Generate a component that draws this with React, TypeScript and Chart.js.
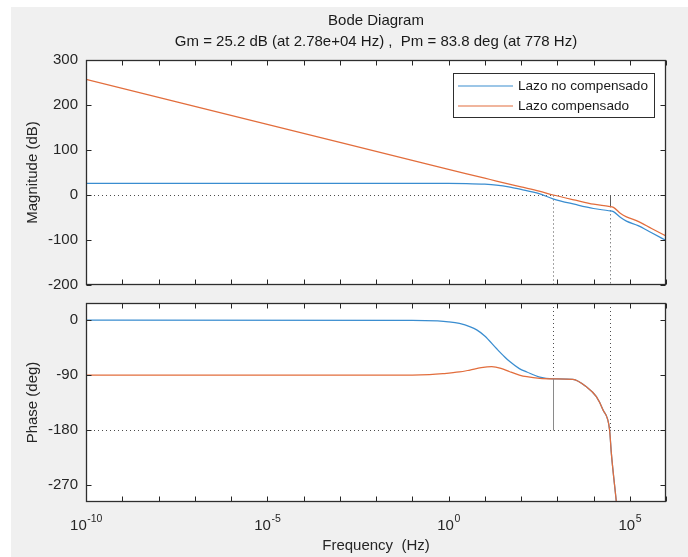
import React, { useEffect, useRef } from 'react';
import { Chart, registerables } from 'chart.js';

Chart.register(...registerables);

const FONT = "'Liberation Sans', Arial, Helvetica, sans-serif";
const TEXT = '#262626';
const BLUE = '#3a8dd0';
const ORANGE = '#e26d3c';

const TITLE = 'Bode Diagram';
const SUBTITLE = 'Gm = 25.2 dB (at 2.78e+04 Hz) ,  Pm = 83.8 deg (at 778 Hz)';
const SERIES_LABELS = ['Lazo no compensado', 'Lazo compensado'];
const MAG_LABEL = 'Magnitude (dB)';
const PHASE_LABEL = 'Phase (deg)';
const FREQ_LABEL = 'Frequency  (Hz)';

// Frequency axis
const X_MIN = 1e-10;
const X_MAX = 1e6;
const X_DECADES = [1e-10, 1e-9, 1e-8, 1e-7, 1e-6, 1e-5, 1e-4, 1e-3, 1e-2, 1e-1, 1, 1e1, 1e2, 1e3, 1e4, 1e5, 1e6];
const X_LABEL_VALUES = [1e-10, 1e-5, 1, 1e5];
const X_LABEL_EXPONENTS = ['-10', '-5', '0', '5'];

// Magnitude axis
const MAG_MIN = -200;
const MAG_MAX = 300;
const MAG_TICKS = [-200, -100, 0, 100, 200, 300];

// Phase axis
const PHASE_MIN = -298;
const PHASE_MAX = 28;
const PHASE_TICKS = [-270, -180, -90, 0];

// Uncompensated loop magnitude
const MAG_UNCOMP_FREQ = [1e-10, 0.1, 1, 3.16, 10, 21, 50, 100, 316, 760, 3160, 1e4, 2.63e4, 3.55e4, 5.6e4, 8.1e4, 1.7e5, 4e5, 1e6];
const MAG_UNCOMP_DB = [26, 26, 25.9, 25.4, 24, 22, 17.5, 12.5, 3, -8.5, -21, -30, -35, -37, -50, -58, -68, -84, -101];

// Compensated loop magnitude
const MAG_COMP_FREQ = [1e-10, 1e-5, 0.1, 1, 10, 21, 100, 316, 778, 3160, 1e4, 2.63e4, 3.55e4, 5.6e4, 8.1e4, 1.7e5, 4e5, 1e6];
const MAG_COMP_DB = [257, 157, 77, 57, 37.5, 31, 18, 8.5, 0, -11.5, -20.5, -25.5, -27.5, -41, -48.5, -58.5, -74.5, -91];

// Uncompensated loop phase
const PH_UNCOMP_FREQ = [1e-10, 0.1, 0.5, 1, 2, 4, 6, 10, 21.4, 35, 49, 90, 145, 330, 778, 2700, 6300, 1.2e4, 1.82e4, 2.78e4, 3.1e4, 4.27e4, 5e4];
const PH_UNCOMP_DEG = [0, -0.3, -1.4, -2.8, -5.5, -11, -16, -26, -47, -60, -68, -79.5, -85, -93.5, -96.2, -97, -109, -125.5, -147, -180, -217.6, -298, -340];

// Compensated loop phase
const PH_COMP_FREQ = [1e-10, 0.1, 0.3, 0.7, 2, 3.9, 8, 15.5, 28, 49, 90, 145, 330, 778, 2700, 6300, 1.2e4, 1.82e4, 2.78e4, 3.1e4, 4.27e4, 5e4];
const PH_COMP_DEG = [-90, -90, -89.3, -87.8, -85, -81.8, -78, -76.4, -79, -84.6, -90, -92.8, -95.5, -96.2, -97, -109, -125.5, -147, -180, -217.6, -298, -340];

// Margins
const GM_FREQ = 2.78e4;
const GM_DB = 25.2;
const PM_FREQ = 778;
const PM_DEG = 83.8;

const W = 688;
const H = 557;

const crisp = (v: number) => Math.round(v) + 0.5;

function font(size: number) {
  return `${size}px ${FONT}`;
}

function line(ctx: CanvasRenderingContext2D, x1: number, y1: number, x2: number, y2: number) {
  ctx.beginPath();
  ctx.moveTo(x1, y1);
  ctx.lineTo(x2, y2);
  ctx.stroke();
}

function makeOverlay(kind: 'mag' | 'phase') {
  return {
    id: 'overlay_' + kind,
    beforeDraw(chart: any) {
      const { ctx, chartArea: a } = chart;
      ctx.save();
      ctx.fillStyle = '#ffffff';
      ctx.fillRect(a.left, a.top, a.right - a.left, a.bottom - a.top);
      ctx.restore();
    },
    beforeDatasetsDraw(chart: any) {
      const { ctx, chartArea: a } = chart;
      const xs = chart.scales.x;
      const ys = chart.scales.y;
      const xPm = crisp(xs.getPixelForValue(PM_FREQ));
      const xGm = crisp(xs.getPixelForValue(GM_FREQ));
      ctx.save();
      ctx.lineWidth = 1;
      if (kind === 'mag') {
        const y0 = crisp(ys.getPixelForValue(0));
        const yG = ys.getPixelForValue(-GM_DB);
        ctx.strokeStyle = '#4d4d4d';
        ctx.setLineDash([1, 3]);
        line(ctx, a.left, y0, a.right, y0);
        line(ctx, xPm, y0, xPm, a.bottom);
        line(ctx, xGm, yG, xGm, a.bottom);
        ctx.setLineDash([]);
        ctx.strokeStyle = '#5e5e5e';
        line(ctx, xGm, y0, xGm, yG);
      } else {
        const y180 = crisp(ys.getPixelForValue(-180));
        const yP = ys.getPixelForValue(-180 + PM_DEG);
        ctx.strokeStyle = '#4d4d4d';
        ctx.setLineDash([1, 3]);
        line(ctx, a.left, y180, a.right, y180);
        line(ctx, xPm, a.top, xPm, yP);
        line(ctx, xGm, a.top, xGm, y180);
        ctx.setLineDash([]);
        ctx.strokeStyle = '#8a8a8a';
        line(ctx, xPm, yP, xPm, y180);
      }
      ctx.restore();
    },
    afterDatasetsDraw(chart: any) {
      const { ctx, chartArea: a } = chart;
      const xs = chart.scales.x;
      const ys = chart.scales.y;
      const ticks = kind === 'mag' ? MAG_TICKS : PHASE_TICKS;
      const L = crisp(a.left);
      const R = crisp(a.right) - 1;
      const T = crisp(a.top);
      const B = crisp(a.bottom) - 1;
      ctx.save();
      ctx.strokeStyle = '#262626';
      ctx.lineWidth = 1;
      ctx.setLineDash([]);
      const tl = 5;
      ticks.forEach((v) => {
        const y = crisp(ys.getPixelForValue(v));
        line(ctx, L, y, L + tl, y);
        line(ctx, R, y, R - tl, y);
      });
      X_DECADES.forEach((v) => {
        const x = crisp(xs.getPixelForValue(v));
        line(ctx, x, B, x, B - tl);
        line(ctx, x, T, x, T + tl);
      });
      ctx.strokeStyle = '#2e2e2e';
      ctx.lineWidth = 1.3;
      ctx.strokeRect(L, T, R - L, B - T);
      ctx.restore();
    },
    afterDraw(chart: any) {
      const { ctx, chartArea: a } = chart;
      const xs = chart.scales.x;
      const cx = (a.left + a.right) / 2;
      ctx.save();
      ctx.fillStyle = '#1a1a1a';
      if (kind === 'mag') {
        ctx.textAlign = 'center';
        ctx.textBaseline = 'middle';
        ctx.font = font(15);
        ctx.fillText(TITLE, cx, a.top - 39.5);
        ctx.fillText(SUBTITLE, cx, a.top - 18.5);

        // legend
        const bx = crisp(a.right - 12) - 1;
        const by = crisp(a.top + 13);
        const bw = 201;
        const bh = 44;
        const bl = Math.round(bx - bw);
        ctx.fillStyle = '#ffffff';
        ctx.fillRect(bl + 0.5, by, bw, bh);
        ctx.strokeStyle = '#2e2e2e';
        ctx.lineWidth = 1;
        ctx.strokeRect(bl + 0.5, by, bw, bh);
        const colors = [BLUE, ORANGE];
        ctx.font = font(13.6);
        ctx.textAlign = 'left';
        ctx.textBaseline = 'middle';
        chart.data.datasets.forEach((ds: any, i: number) => {
          const yy = by + 12.5 + i * 20;
          ctx.strokeStyle = colors[i];
          ctx.lineWidth = 1.2;
          line(ctx, bl + 5, yy, bl + 60, yy);
          ctx.fillStyle = '#1a1a1a';
          ctx.fillText(ds.label, bl + 65, yy);
        });
      } else {
        ctx.fillStyle = TEXT;
        X_LABEL_VALUES.forEach((v, i) => {
          const x = xs.getPixelForValue(v);
          ctx.font = font(15);
          const w1 = ctx.measureText('10').width;
          ctx.font = font(10.5);
          const w2 = ctx.measureText(X_LABEL_EXPONENTS[i]).width;
          const start = x - (w1 + w2) / 2;
          ctx.textAlign = 'left';
          ctx.textBaseline = 'middle';
          ctx.font = font(15);
          ctx.fillText('10', start, a.bottom + 24);
          ctx.font = font(10.5);
          ctx.fillText(X_LABEL_EXPONENTS[i], start + w1 + 0.5, a.bottom + 17.5);
        });
        ctx.font = font(15);
        ctx.textAlign = 'center';
        ctx.textBaseline = 'middle';
        ctx.fillText(FREQ_LABEL, cx, a.bottom + 44);
      }
      ctx.restore();
    },
  };
}

function pts(xs: number[], ys: number[]) {
  return xs.map((x, i) => ({ x, y: ys[i] }));
}

// order: lower value is drawn on top, so the compensated loop (order 0) covers the uncompensated one
function baseDataset(label: string, data: any[], color: string, order: number) {
  return {
    label,
    data,
    order,
    borderColor: color,
    backgroundColor: color,
    borderWidth: 1.25,
    pointRadius: 0,
    fill: false,
    cubicInterpolationMode: 'monotone' as const,
  };
}

function yScale(min: number, max: number, ticks: number[], title: string) {
  return {
    type: 'linear' as const,
    position: 'left' as const,
    min,
    max,
    afterBuildTicks: (s: any) => {
      s.ticks = ticks.map((value) => ({ value }));
    },
    afterFit: (s: any) => {
      s.width = 86;
    },
    grid: { display: false, drawTicks: false },
    border: { display: false },
    ticks: { padding: 8, font: { family: FONT, size: 15 }, color: TEXT },
    title: {
      display: true,
      text: title,
      color: TEXT,
      font: { family: FONT, size: 15 },
      padding: { top: 24, bottom: 0 },
    },
  };
}

export default function App() {
  const magRef = useRef<HTMLCanvasElement | null>(null);
  const phRef = useRef<HTMLCanvasElement | null>(null);

  useEffect(() => {
    const common = {
      animation: false as const,
      responsive: false,
      maintainAspectRatio: false,
      devicePixelRatio: 1,
      events: [] as any[],
    };
    const magChart = new Chart(magRef.current as HTMLCanvasElement, {
      type: 'line',
      data: {
        datasets: [
          baseDataset(SERIES_LABELS[0], pts(MAG_UNCOMP_FREQ, MAG_UNCOMP_DB), BLUE, 1),
          baseDataset(SERIES_LABELS[1], pts(MAG_COMP_FREQ, MAG_COMP_DB), ORANGE, 0),
        ],
      },
      options: {
        ...common,
        layout: { padding: { left: 0, top: 60, right: 22, bottom: 272 } },
        plugins: { legend: { display: false }, tooltip: { enabled: false }, title: { display: false } },
        scales: {
          x: { type: 'logarithmic', min: X_MIN, max: X_MAX, display: false },
          y: yScale(MAG_MIN, MAG_MAX, MAG_TICKS, MAG_LABEL),
        },
      } as any,
      plugins: [makeOverlay('mag')],
    });
    const phChart = new Chart(phRef.current as HTMLCanvasElement, {
      type: 'line',
      data: {
        datasets: [
          baseDataset(SERIES_LABELS[0], pts(PH_UNCOMP_FREQ, PH_UNCOMP_DEG), BLUE, 1),
          baseDataset(SERIES_LABELS[1], pts(PH_COMP_FREQ, PH_COMP_DEG), ORANGE, 0),
        ],
      },
      options: {
        ...common,
        layout: { padding: { left: 0, top: 303, right: 22, bottom: 55 } },
        plugins: { legend: { display: false }, tooltip: { enabled: false }, title: { display: false } },
        scales: {
          x: { type: 'logarithmic', min: X_MIN, max: X_MAX, display: false },
          y: yScale(PHASE_MIN, PHASE_MAX, PHASE_TICKS, PHASE_LABEL),
        },
      } as any,
      plugins: [makeOverlay('phase')],
    });
    return () => {
      magChart.destroy();
      phChart.destroy();
    };
  }, []);

  const canvasStyle: React.CSSProperties = { position: 'absolute', left: 0, top: 0, width: W, height: H };

  return (
    <div style={{ position: 'absolute', left: 0, top: 0, width: W, height: H, background: '#ffffff', overflow: 'hidden' }}>
      <div style={{ position: 'absolute', left: 11, top: 7, width: W - 11, height: H - 7, background: '#f0f0f0' }} />
      <canvas ref={phRef} width={W} height={H} style={canvasStyle} />
      <canvas ref={magRef} width={W} height={H} style={canvasStyle} />
    </div>
  );
}
